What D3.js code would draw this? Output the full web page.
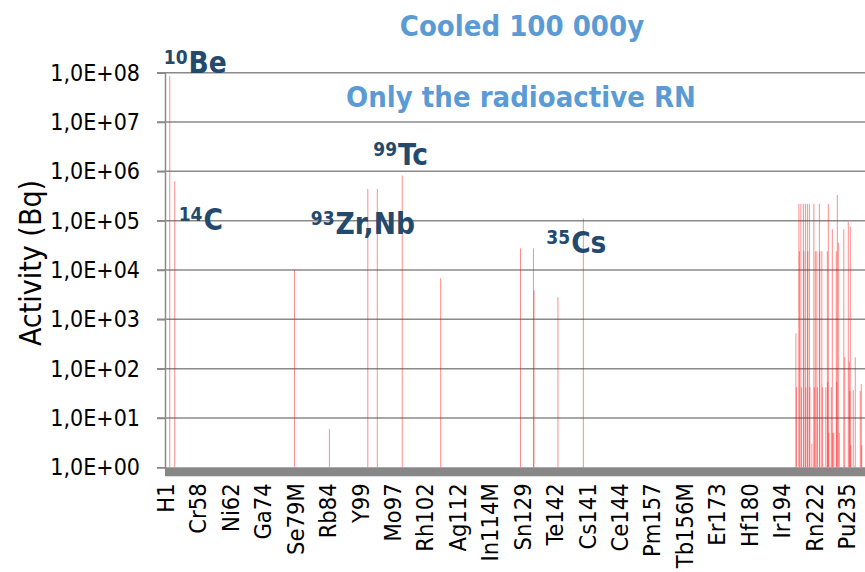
<!DOCTYPE html>
<html>
<head>
<meta charset="utf-8">
<script src="https://cdn.jsdelivr.net/npm/d3@7/dist/d3.min.js"></script>
<style>
  html, body { margin: 0; padding: 0; background: #fff; }
  svg { display: block; }
  text { font-family: "DejaVu Sans Condensed", "DejaVu Sans", sans-serif; }
</style>
</head>
<body>
<svg id="chart" width="865" height="572"></svg>
<script>
// ---------------- data ----------------
const tickLabels = ["H1","Cr58","Ni62","Ga74","Se79M","Rb84","Y99","Mo97","Rh102","Ag112","In114M",
                    "Sn129","Te142","Cs141","Ce144","Pm157","Tb156M","Er173","Hf180","Ir194","Rn222","Pu235"];
const labelStep = 65;          // one label every 65 nuclides
const nCategories = 1403;      // nuclides on the category axis

// nuclide position (category index) and activity (Bq) of each non-zero bar
const barIndex = [9, 19, 259, 329, 406, 425, 475, 552, 712, 738, 739, 787, 838,
  1264, 1265, 1270, 1271, 1274, 1275, 1279, 1280, 1283, 1284, 1287, 1288, 1291, 1292,
  1296, 1300, 1301, 1303, 1306, 1307, 1311, 1312, 1316, 1317, 1324, 1327, 1328, 1329,
  1330, 1335, 1337, 1338, 1340, 1345, 1346, 1347, 1349, 1351, 1360, 1362, 1369, 1371,
  1372, 1373, 1374, 1379, 1383, 1393, 1395, 1396];
const barValue = [8.5e7, 6.3e5, 1.0e4, 6, 4.4e5, 4.4e5, 8.2e5, 6.8e3, 2.75e4, 2.75e4, 3.9e3, 2.8e3, 1.1e5,
  520, 42, 2.2e5, 2.4e4, 2.2e5, 42, 2.2e5, 2.4e4, 2.2e5, 42, 2.2e5, 2.4e4, 2.2e5, 42,
  3, 2.2e5, 42, 2.4e4, 2.4e4, 42, 2.2e5, 2.4e4, 2.4e4, 42, 42, 2.4e4, 54, 2.2e5,
  5, 42, 6.7e4, 5, 5, 2.4e4, 54, 3.3e5, 3.6e4, 5, 6.7e4, 170, 9.5e4, 138,
  35, 7.6e4, 2.8, 37, 170, 35, 49, 2.8];

const yTickValues = [1e0, 1e1, 1e2, 1e3, 1e4, 1e5, 1e6, 1e7, 1e8];

const titleLines = ["Cooled 100 000y", "Only the radioactive RN"];
// annotations: superscript mass number + element
const annSup = ["10", "14", "99", "93", "35"];
const annMain = ["Be", "C", "Tc", "Zr,Nb", "Cs"];
const annIndex = [9, 19, 475, 406, 838];      // category the label refers to
const annValue = [1.0e8, 6.5e4, 1.35e6, 5.3e4, 2.2e4]; // activity level of the label baseline

// ---------------- layout ----------------
const L = 165, R = 865, T = 72.7, B = 467.3;
const svg = d3.select("#chart");

const x = d3.scaleLinear().domain([0, nCategories]).range([L, R]);
const y = d3.scaleLog().domain([1, 1e8]).range([B, T]);

const gridColor = "#8a8a8a";

// gridlines
svg.append("g").selectAll("line").data(yTickValues.slice(1)).join("line")
  .attr("x1", L - 8).attr("x2", R)
  .attr("y1", d => y(d)).attr("y2", d => y(d))
  .attr("stroke", gridColor).attr("stroke-width", 1.5);

// y axis
const yAxis = d3.axisLeft(y).tickValues(yTickValues).tickSize(8).tickPadding(17)
  .tickFormat(d => "1,0E+" + String(Math.round(Math.log10(d))).padStart(2, "0"));
const gy = svg.append("g").attr("transform", `translate(${L},0)`).call(yAxis);
gy.select(".domain").attr("stroke", gridColor).attr("stroke-width", 1.5);
gy.selectAll(".tick line").attr("stroke", gridColor).attr("stroke-width", 1.5);
gy.selectAll(".tick text").attr("font-size", 23).attr("fill", "#000")
  .attr("font-family", '"DejaVu Sans Condensed", "DejaVu Sans", sans-serif');

// bars
svg.append("g").selectAll("rect").data(barIndex.map((d, i) => ({i: d, v: barValue[i]}))).join("rect")
  .attr("x", d => x(d.i + 0.5) - 0.5)
  .attr("width", 1)
  .attr("y", d => y(d.v))
  .attr("height", d => y(1) - y(d.v))
  .attr("fill", "#ff0000")
  .attr("fill-opacity", 0.45);

// thick category axis
svg.append("rect").attr("x", L).attr("y", B).attr("width", R - L).attr("height", 9)
  .attr("fill", "#878787");

// x labels
const xAxis = d3.axisBottom(x)
  .tickValues(tickLabels.map((d, k) => k * labelStep + 0.5))
  .tickFormat((d, k) => tickLabels[k]).tickSize(0);
const gx = svg.append("g").attr("transform", `translate(0,${B})`).call(xAxis);
gx.select(".domain").remove();
gx.selectAll(".tick text")
  .attr("font-size", 23.5).attr("fill", "#000")
  .attr("font-family", '"DejaVu Sans Condensed", "DejaVu Sans", sans-serif')
  .attr("transform", "rotate(-90)")
  .attr("text-anchor", "end")
  .attr("x", -16).attr("y", 0).attr("dy", "0.35em");

// y title
svg.append("text")
  .attr("transform", `translate(41,263) rotate(-90)`)
  .attr("text-anchor", "middle")
  .attr("font-size", 30).attr("fill", "#000")
  .text("Activity (Bq)");

// titles
svg.append("text").attr("x", 522).attr("y", 36).attr("text-anchor", "middle")
  .attr("font-size", 29).attr("font-weight", "bold").attr("fill", "#5b9bd5").text(titleLines[0]);
svg.append("text").attr("x", 521).attr("y", 107).attr("text-anchor", "middle")
  .attr("font-size", 29).attr("font-weight", "bold").attr("fill", "#5b9bd5").text(titleLines[1]);

// annotations
const annOffsetX = [-6, 4, -29, -57, -37];
annSup.forEach((s, k) => {
  const t = svg.append("text")
    .attr("x", x(annIndex[k] + 0.5) + annOffsetX[k])
    .attr("y", y(annValue[k]))
    .attr("font-weight", "bold").attr("fill", "#23496d");
  t.append("tspan").attr("font-size", 19).attr("dy", -9).text(s);
  t.append("tspan").attr("font-size", 29.5).attr("dy", 9).attr("dx", 1).text(annMain[k]);
});
</script>
</body>
</html>
